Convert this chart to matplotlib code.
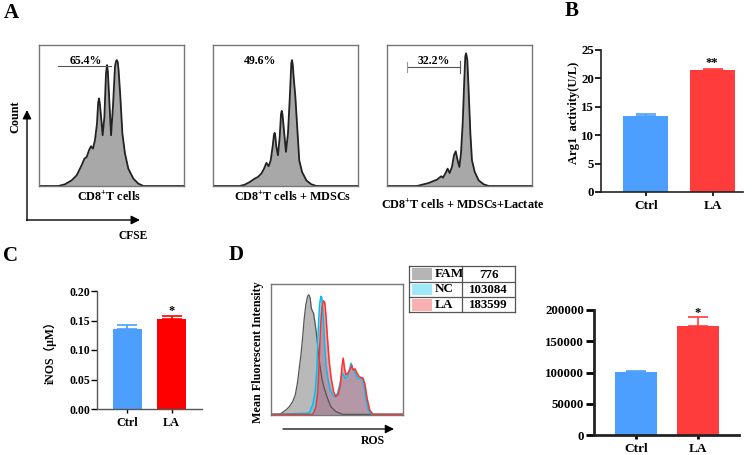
import matplotlib
matplotlib.use("Agg")
import matplotlib.pyplot as plt
from matplotlib.patches import Rectangle

plt.rcParams['font.family'] = ['Liberation Serif', 'DejaVu Serif']
plt.rcParams['font.weight'] = 'bold'
plt.rcParams['mathtext.fontset'] = 'custom'
plt.rcParams['mathtext.rm'] = 'Liberation Serif:bold'
plt.rcParams['mathtext.it'] = 'Liberation Serif:bold'
plt.rcParams['mathtext.bf'] = 'Liberation Serif:bold'

# ---- data -------------------------------------------------------------
# A: CFSE histograms (channel 0-100, % of max count)
cfse_x1 = [0, 13.3, 17.9, 22.5, 26.0, 29.4, 31.3, 32.9, 34.5, 35.9, 37.2, 38.6, 40.0, 40.8, 41.4, 42.0, 42.8,
           43.9, 45.1, 46.2, 46.9, 47.5, 47.9, 49.7, 51.0, 52.4, 53.0, 53.6, 54.3, 54.9, 56.1, 57.5, 59.3,
           61.6, 65.1, 68.5, 72.0, 100]
cfse_y1 = [0, 0, 1.2, 4.0, 7.6, 14.7, 19.4, 20.6, 25.4, 28.2, 26.5, 32.5, 44.3, 59.0, 62.1, 58.0, 49.1,
           36.0, 49.1, 79.9, 85.8, 81.0, 72.7, 36.0, 56.2, 84.6, 88.0, 89.3, 88.0, 82.0, 63.3, 37.2, 23.0,
           12.3, 5.2, 1.7, 0, 0]
cfse_x2 = [0, 18.4, 21.8, 25.3, 28.7, 31.0, 33.3, 35.2, 36.8, 38.4, 39.8, 41.1, 42.0, 42.5, 43.0, 43.7,
           44.8, 46.0, 46.9, 47.4, 47.9, 48.5, 50.3, 51.7, 53.1, 54.0, 54.5, 55.0, 55.6, 56.8, 58.2, 59.5,
           61.4, 64.4, 67.8, 71.3, 100]
cfse_y2 = [0, 0, 0.9, 2.8, 5.2, 6.4, 8.8, 12.3, 16.4, 14.0, 18.2, 27.7, 36.0, 37.7, 35.0, 27.7,
           21.8, 34.8, 51.0, 53.3, 51.0, 44.3, 24.2, 37.2, 65.6, 87.0, 89.3, 86.0, 77.5, 63.3, 39.6, 18.2,
           10.0, 4.0, 1.2, 0, 0]
cfse_x3 = [0, 20.7, 24.1, 28.7, 32.2, 34.5, 36.1, 37.5, 38.6, 40.2, 41.8, 43.2, 44.8, 46.2, 47.4,
           48.7, 49.9, 51.0, 52.2, 53.3, 54.0, 54.5, 55.0, 55.4, 56.3, 57.5, 58.6, 60.5, 63.2, 66.7, 70.1, 100]
cfse_y3 = [0, 0, 0.9, 2.1, 3.6, 4.5, 5.9, 6.9, 5.9, 8.8, 12.3, 9.2, 13.5, 21.8, 24.6,
           18.2, 13.5, 23.0, 44.3, 75.1, 92.0, 94.1, 92.0, 89.3, 68.0, 37.2, 18.2, 10.0, 4.0, 1.2, 0, 0]
cfse_labels = ['CD8$^{+}$T cells', 'CD8$^{+}$T cells + MDSCs', 'CD8$^{+}$T cells + MDSCs+Lactate']
cfse_pct = ['65.4%', '49.6%', '32.2%']

# B, C, D bars
groups = ['Ctrl', 'LA']
arg1 = [13.3, 21.4]
arg1_err = [0.35, 0.2]
inos = [0.136, 0.152]
inos_err = [0.007, 0.006]
ros_mfi = [100600, 174000]
ros_err = [2000, 14500]

# D: ROS histograms
fam_x = [0, 6.3, 8.8, 11.3, 13.9, 16.4, 18.4, 20.2, 21.4, 22.7, 23.9, 25.2, 26.4, 27.7, 28.7, 29.7, 30.5,
         31.5, 32.2, 33.2, 34.5, 35.8, 37.0, 38.5, 40.3, 42.8, 45.3, 49.1, 54.2, 100]
fam_y = [0.5, 0.5, 2.0, 3.8, 6.4, 10.2, 15.3, 25.5, 35.7, 45.9, 58.7, 74.0, 84.2, 90.6, 91.8, 89.3, 81.6,
         79.1, 77.8, 71.4, 61.2, 48.5, 38.3, 28.1, 20.4, 12.8, 6.4, 2.6, 0.5, 0.5]
nc_x = [0, 27.7, 29.5, 31.5, 33.5, 34.8, 35.8, 36.8, 37.8, 38.5, 39.5, 40.6, 41.6, 43.1, 44.6, 46.6, 48.6,
        50.4, 52.1, 53.7, 54.9, 56.2, 57.9, 59.7, 60.7, 61.7, 63.0, 64.2, 65.7, 67.3, 68.8, 70.3, 71.8,
        73.8, 76.3, 100]
nc_y = [0.5, 1.3, 2.6, 7.7, 17.9, 35.7, 66.3, 84.2, 90.6, 89.3, 76.5, 53.6, 38.3, 28.1, 20.4, 15.3, 14.0,
        16.6, 23.0, 31.9, 30.6, 28.1, 29.3, 35.7, 39.5, 35.7, 34.4, 30.6, 28.1, 27.6, 28.6, 24.2, 12.8,
        3.8, 0.5, 0.5]
la_x = [0, 31.5, 32.7, 34.0, 35.5, 36.5, 37.5, 38.5, 39.8, 40.8, 41.6, 42.8, 44.1, 45.6, 47.4, 49.1, 50.9,
        52.6, 53.9, 54.7, 55.7, 56.7, 58.2, 59.7, 61.2, 62.2, 63.7, 65.2, 66.8, 68.3, 69.8, 71.3, 72.8,
        74.8, 77.3, 100]
la_y = [0.5, 0.5, 2.6, 6.4, 17.9, 40.8, 66.3, 81.6, 87.2, 85.5, 76.5, 58.7, 40.8, 28.1, 17.9, 14.0, 15.3,
        23.0, 38.3, 43.4, 35.7, 30.6, 31.9, 34.4, 37.8, 34.4, 35.2, 31.9, 29.3, 28.6, 28.1, 23.0, 12.8,
        3.8, 0.5, 0.5]
legend_names = ['FAM', 'NC', 'LA']
legend_mfi = ['776', '103084', '183599']

W, H = 756, 455
fig = plt.figure(figsize=(W / 100, H / 100), dpi=100)


def box(x0, y0, x1, y1):
    # pixel box -> figure fraction
    return [x0 / W, 1 - y1 / H, (x1 - x0) / W, (y1 - y0) / H]


# ---- A: CFSE histograms ----
hist_boxes = [(39, 45, 184, 186), (213, 45, 358, 186), (387, 45, 532, 186)]
cfse = [(cfse_x1, cfse_y1), (cfse_x2, cfse_y2), (cfse_x3, cfse_y3)]
for i, (b, (hx, hy)) in enumerate(zip(hist_boxes, cfse)):
    ax = fig.add_axes(box(*b))
    ax.fill_between(hx, hy, color='#a8a8a8', lw=0)
    ax.plot(hx, hy, color='#222222', lw=1.3)
    ax.set_xlim(0, 100)
    ax.set_ylim(0, 100)
    ax.set_xticks([])
    ax.set_yticks([])
    for s in ax.spines.values():
        s.set_color('#777777')
        s.set_linewidth(1)
    ax.text(32.5, 89, cfse_pct[i], ha='center', va='center', fontsize=8.5, fontweight='bold')
    if i == 0:
        ax.plot([12.9, 49.7], [85.1, 85.1], color='#555555', lw=0.8)
    if i == 2:
        ax.plot([13.8, 50.6], [84.1, 84.1], color='#555555', lw=0.8)
        ax.plot([13.8, 13.8], [81, 88], color='#999999', lw=0.8)
        ax.plot([50.6, 50.6], [80, 89], color='#555555', lw=0.8)


def bar_panel(b, vals, errs, colors, ylim, yticks, xlim, width, spine_lw, ticklen, fsize):
    ax = fig.add_axes(box(*b))
    x = list(range(len(groups)))
    ax.bar(x, vals, width=width, color=colors, zorder=2)
    for xi, v, e, c in zip(x, vals, errs, colors):
        ax.errorbar(xi, v, yerr=[[0], [e]], fmt='none', ecolor=c,
                    elinewidth=1.2, capsize=7, capthick=1.2, zorder=1)
    ax.set_xlim(*xlim)
    ax.set_ylim(*ylim)
    ax.set_yticks(yticks)
    ax.set_xticks(x)
    ax.set_xticklabels(groups)
    for s in ['top', 'right']:
        ax.spines[s].set_visible(False)
    for s in ['left', 'bottom']:
        ax.spines[s].set_linewidth(spine_lw)
        ax.spines[s].set_color('#222222')
    ax.tick_params(axis='y', direction='out', length=ticklen, width=spine_lw, labelsize=fsize, pad=1)
    ax.tick_params(axis='x', direction='out', length=3, width=spine_lw, labelsize=fsize + 0.3, pad=3)
    for t in ax.get_xticklabels() + ax.get_yticklabels():
        t.set_fontweight('bold')
    ax.patch.set_alpha(0)
    return ax


# ---- B ----
bar_panel((601, 50, 743, 192), arg1, arg1_err, ['#4d9fff', '#ff3c3c'], (0, 25), [0, 5, 10, 15, 20, 25],
          (-0.67, 1.45), 0.67, 1.2, 4, 9.3)

# ---- C ----
axc = bar_panel((97, 291, 202, 409), inos, inos_err, ['#4d9fff', '#ff0000'], (0, 0.20),
                [0, 0.05, 0.10, 0.15, 0.20], (-0.69, 1.69), 0.66, 1.0, 4, 8.5)
axc.set_yticklabels(['0.00', '0.05', '0.10', '0.15', '0.20'])
for t in axc.get_yticklabels():
    t.set_fontweight('bold')
for s in ['left', 'bottom']:
    axc.spines[s].set_color('#555555')

# ---- D bars ----
bar_panel((594, 310, 739, 435), ros_mfi, ros_err, ['#4d9fff', '#ff3c3c'], (0, 200000),
          [0, 50000, 100000, 150000, 200000], (-0.68, 1.66), 0.68, 2.0, 6, 9.3)

# ---- D histogram ----
axh = fig.add_axes(box(271, 284, 403, 415))
axh.fill_between(fam_x, fam_y, color='#a8a8a8', alpha=0.8, lw=0)
axh.plot(fam_x, fam_y, color='#555555', lw=0.9)
axh.fill_between(nc_x, nc_y, color='#30d0f2', alpha=0.6, lw=0)
axh.plot(nc_x, nc_y, color='#00c0ee', lw=1.1)
axh.fill_between(la_x, la_y, color='#d86874', alpha=0.6, lw=0)
axh.plot(la_x, la_y, color='#ff3030', lw=1.1)
axh.set_xlim(0, 100)
axh.set_ylim(0, 100)
axh.set_xticks([])
axh.set_yticks([])
for s in axh.spines.values():
    s.set_color('#777777')
    s.set_linewidth(1)

# legend table
axt = fig.add_axes(box(409, 266, 515, 312))
axt.set_xlim(0, 106)
axt.set_ylim(46, 0)
axt.axis('off')
patch_colors = ['#b5b5b5', '#a0e8f8', '#f8b0b0']
rows = [0, 15.5, 31, 46]
for y in rows:
    axt.plot([0, 106], [y, y], color='#555555', lw=0.9, clip_on=False)
for xx in [0, 53, 106]:
    axt.plot([xx, xx], [0, 46], color='#555555', lw=0.9, clip_on=False)
for k in range(3):
    axt.add_patch(Rectangle((3, rows[k] + 2), 20, 11.5, color=patch_colors[k], lw=0))
    axt.text(26, rows[k] + 8, legend_names[k], ha='left', va='center', fontsize=9.5, fontweight='bold')
    axt.text(79.5, rows[k] + 8.5, legend_mfi[k], ha='center', va='center', fontsize=9.3, fontweight='bold')

# ---- overlay: labels and arrows ----
ov = fig.add_axes([0, 0, 1, 1])
ov.set_xlim(0, W)
ov.set_ylim(H, 0)
ov.axis('off')
ov.patch.set_alpha(0)

for letter, (lx, ly) in zip('ABCD', [(11, 13), (572, 11), (10, 256), (236, 255)]):
    ov.text(lx, ly, letter, fontsize=15, fontweight='bold', ha='center', va='center')

ov.annotate('', xy=(27, 110), xytext=(27, 220.5),
            arrowprops=dict(arrowstyle='-|>', color='black', lw=1, mutation_scale=13, shrinkA=0, shrinkB=0))
ov.annotate('', xy=(140, 220), xytext=(26.5, 220),
            arrowprops=dict(arrowstyle='-|>', color='black', lw=1, mutation_scale=13, shrinkA=0, shrinkB=0))
ov.text(15, 117, 'Count', rotation=90, fontsize=8.7, fontweight='bold', ha='center', va='center')
ov.text(133, 236, 'CFSE', fontsize=8.3, fontweight='bold', ha='center', va='center')
for (lx, ly), lab in zip([(109, 197), (293, 197), (463, 205)], cfse_labels):
    ov.text(lx, ly, lab, fontsize=8.7, fontweight='bold', ha='center', va='center')

ov.text(574, 113, 'Arg1  activity(U/L)', rotation=90, fontsize=9, fontweight='bold', ha='center', va='center')
ov.text(712, 63, '**', fontsize=9, fontweight='bold', ha='center', va='center')
ov.text(50, 350, 'iNOS（μM）', rotation=90, fontsize=8.5, fontweight='bold', ha='center', va='center',
        family=['Liberation Serif', 'Noto Sans CJK SC'])
ov.text(172, 311, '*', fontsize=9, fontweight='bold', ha='center', va='center')
ov.text(698, 313, '*', fontsize=9, fontweight='bold', ha='center', va='center')

ov.text(258, 352, 'Mean Fluorescent Intensity', rotation=90, fontsize=8.7, fontweight='bold',
        ha='center', va='center')
ov.annotate('', xy=(394, 429), xytext=(283, 429),
            arrowprops=dict(arrowstyle='-|>', color='black', lw=0.9, mutation_scale=13, shrinkA=0, shrinkB=0))
ov.text(373, 441, 'ROS', fontsize=8.5, fontweight='bold', ha='center', va='center')

fig.savefig('out.png', dpi=100)
